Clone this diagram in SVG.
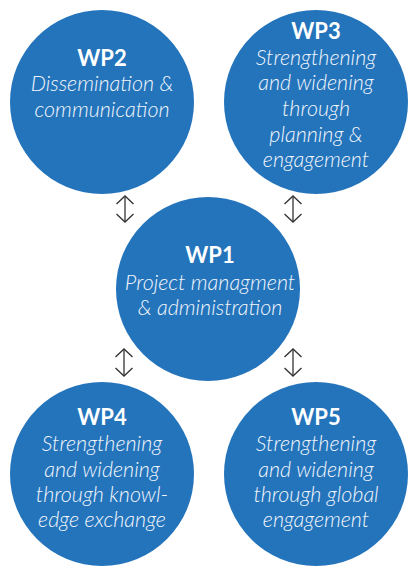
<svg xmlns="http://www.w3.org/2000/svg" width="408" height="567" viewBox="0 0 408 567">
<style>
.node{fill:#2474bb}
.t{font-family:Lato,"Open Sans",sans-serif;font-weight:700;font-size:22px;fill:#fff;text-anchor:middle}
.s{font-family:Lato,"Open Sans",sans-serif;font-weight:300;font-style:italic;font-size:21.5px;fill:#f2f6fb;text-anchor:middle}
.c{stroke:#333;stroke-width:1.3;fill:none}
</style>
<defs>
<marker id="ah" viewBox="0 0 10 20" refX="9" refY="10" markerWidth="10" markerHeight="20" markerUnits="userSpaceOnUse" orient="auto-start-reverse">
<path d="M1,1.5 L9,10 L1,18.5" fill="none" stroke="#333" stroke-width="1.3"/>
</marker>
</defs>
<rect width="408" height="567" fill="#fff"/>
<g id="connectors">
<line class="c" x1="125" y1="196" x2="125" y2="222" marker-start="url(#ah)" marker-end="url(#ah)"/>
<line class="c" x1="293" y1="196" x2="293" y2="222" marker-start="url(#ah)" marker-end="url(#ah)"/>
<line class="c" x1="124" y1="349" x2="124" y2="376" marker-start="url(#ah)" marker-end="url(#ah)"/>
<line class="c" x1="293" y1="349" x2="293" y2="376" marker-start="url(#ah)" marker-end="url(#ah)"/>
</g>
<g id="wp2">
<circle class="node" cx="102" cy="102" r="92"/>
<text class="t" x="102" y="66">WP2</text>
<text class="s" x="102" y="91">Dissemination &amp;</text>
<text class="s" x="102" y="117">communication</text>
</g>
<g id="wp3">
<circle class="node" cx="316" cy="102" r="92"/>
<text class="t" x="316" y="39">WP3</text>
<text class="s" x="316" y="65">Strengthening</text>
<text class="s" x="316" y="90">and widening</text>
<text class="s" x="316" y="116">through</text>
<text class="s" x="316" y="142">planning &amp;</text>
<text class="s" x="316" y="167">engagement</text>
</g>
<g id="wp1">
<circle class="node" cx="208" cy="289" r="92"/>
<text class="t" x="210" y="263">WP1</text>
<text class="s" x="210" y="290">Project managment</text>
<text class="s" x="210" y="315">&amp; administration</text>
</g>
<g id="wp4">
<circle class="node" cx="102" cy="474" r="92"/>
<text class="t" x="102" y="425">WP4</text>
<text class="s" x="102" y="451">Strengthening</text>
<text class="s" x="102" y="477">and widening</text>
<text class="s" x="102" y="502">through knowl-</text>
<text class="s" x="102" y="527">edge exchange</text>
</g>
<g id="wp5">
<circle class="node" cx="316" cy="474" r="92"/>
<text class="t" x="316" y="425">WP5</text>
<text class="s" x="316" y="451">Strengthening</text>
<text class="s" x="316" y="477">and widening</text>
<text class="s" x="316" y="502">through global</text>
<text class="s" x="316" y="527">engagement</text>
</g>
</svg>
